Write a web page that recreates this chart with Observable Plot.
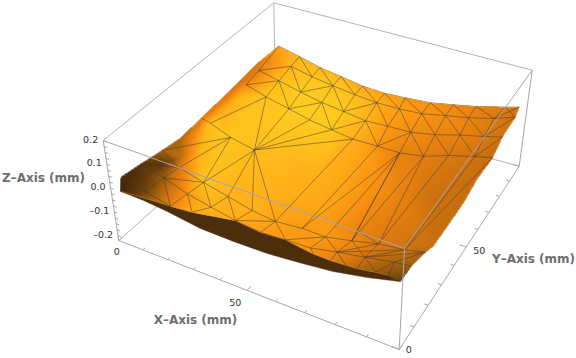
<!DOCTYPE html>
<html><head><meta charset="utf-8">
<script src="https://cdn.jsdelivr.net/npm/d3@7"></script>
<script src="https://cdn.jsdelivr.net/npm/@observablehq/plot@0.6"></script>
<style>html,body{margin:0;background:#fff}</style></head><body><div id="c"></div>
<script>
// Surface vertices, in mm (X, Y, Z), with the shading read at each vertex.
const vertexX=[3.0,11.3,20.6,29.2,38.7,47.4,55.4,65.4,73.7,81.6,91.5,97.3,
10.4,18.8,27.3,36.1,45.2,54.3,63.4,71.9,80.1,89.0,96.7,
2.1,9.1,18.0,27.0,35.7,45.0,53.7,63.2,71.9,80.6,89.1,96.2,
2.5,10.0,18.4,27.3,36.1,45.1,54.9,64.1,72.7,81.0,89.8,96.8,
4.4,12.2,19.7,0.3,0.5,8.5,17.2,8.2,9.1,17.6,19.7,25.2,26.1,26.3,37.3,35.9,44.8,46.6,54.6,54.1,62.6,71.1,79.4,88.7,69.3,63.7,71.6,80.3,97.2,90.3,96.8,99.0,2.8,3.7,
65.8,72.1,77.4,81.5,87.6,92.5,0.5,-0.3,0.1,0.7,96.6,97.0,97.4,97.7,
57.8,73.2,84.3,43.5,62.8,40.8,56.0,2.5,2.5,3.0,3.2,7.6,5.5,5.3,4.3,7.7,2.2,4.4];
const vertexY=[98.2,99.6,99.0,99.8,98.9,99.5,100.1,99.7,100.8,102.0,103.4,99.9,
94.8,96.1,97.0,98.0,98.1,98.1,97.3,98.7,99.6,100.5,98.9,
84.9,87.8,88.8,88.9,89.9,89.4,89.8,88.6,89.7,90.8,91.0,88.2,
75.4,77.1,79.4,79.1,79.7,79.2,79.2,77.7,78.3,80.1,81.0,77.9,
49.0,49.7,53.1,26.5,14.9,24.4,25.6,16.3,5.7,16.0,4.4,8.0,16.8,26.2,13.9,25.7,25.5,13.7,15.3,26.5,26.3,27.5,29.1,27.3,34.8,14.6,16.8,17.7,22.3,16.0,13.2,0.9,2.4,0.3,
12.7,11.6,11.0,10.3,9.6,7.5,36.5,50.3,73.0,87.4,64.3,52.5,39.1,26.9,
52.6,54.7,56.6,58.0,65.1,42.0,35.0,59.3,70.0,47.8,42.7,37.8,29.3,25.7,20.2,50.1,8.5,14.6];
const vertexZ=[.03,0,-.02,-.04,-.05,-.06,-.06,-.05,-.04,-.03,-.01,.03,
-.02,-.05,-.07,-.09,-.1,-.1,-.09,-.08,-.07,-.05,-.01,
-.01,-.05,-.08,-.1,-.12,-.13,-.13,-.12,-.11,-.09,-.07,-.03,
-.02,-.06,-.1,-.12,-.14,-.15,-.15,-.14,-.13,-.11,-.09,-.05,
-.03,-.07,-.12,-.02,0,-.05,-.09,-.04,-.02,-.07,-.03,-.06,-.1,-.12,-.09,-.14,-.15,-.1,-.11,-.15,-.15,-.14,-.13,-.1,-.16,-.1,-.1,-.09,-.03,-.05,-.01,.05,.04,0,
-.1,-.09,-.08,-.07,-.05,-.02,-.03,-.03,-.01,.01,-.05,-.06,-.05,-.04,
-.16,-.14,-.09,-.16,-.14,-.15,-.15,-.05,-.05,-.05,-.04,-.08,-.05,-.04,-.02,-.07,.01,-.02];
const vertexShade=[.75,.85,.85,.85,.8,.75,.72,.68,.64,.6,.55,.5,
.85,.95,.95,.9,.82,.75,.7,.66,.62,.55,.5,
.6,.9,1,1,.97,.85,.72,.66,.62,.6,.55,.5,
.65,.95,1,1,.97,.82,.7,.6,.58,.54,.5,.45,
.9,.95,.9,.4,.12,.55,.92,.35,.22,.7,.6,.8,.85,.85,.8,.82,.76,.72,.72,.72,.72,.65,.55,.5,.62,.7,.62,.5,.42,.4,.35,.2,.05,.02,
.65,.6,.5,.42,.35,.28,.4,.55,.5,.55,.47,.47,.47,.47,
.74,.62,.5,.84,.68,.82,.76,.82,.85,.85,.7,.85,.45,.3,.14,.95,.06,.2];
// Lower rim of the sheet along the front edge.
const rimX=[3.8,11.4,19.7,30.6,41.0,51.9,62.9,73.7,84.9,95.1];
const rimY=[0.2,1.8,2.7,4.5,7.0,9.0,10.1,10.5,10.2,9.5];
const rimZ=[0,-.02,-.04,-.08,-.11,-.13,-.13,-.12,-.09,-.05];
// Triangulation edges, as pairs of vertex indices.
const meshPairs=[0,23,1,12,12,23,12,24,12,25,12,13,1,13,13,2,13,14,2,14,14,3,14,15,3,15,15,4,15,16,4,16,16,5,16,17,5,17,17,6,17,18,6,18,18,7,18,19,7,19,19,8,19,20,8,20,20,9,20,21,9,21,21,10,21,22,10,22,21,11,
13,25,25,14,14,26,25,26,14,27,26,27,27,15,27,16,27,28,16,28,16,29,17,29,28,29,29,30,17,30,30,18,30,31,18,31,31,19,31,32,19,32,32,20,32,33,20,33,33,21,33,34,22,33,
24,25,23,24,35,24,35,36,24,36,36,37,24,37,25,37,37,26,26,38,37,38,38,39,26,39,27,39,39,28,28,40,39,40,40,41,28,41,29,41,41,30,41,42,30,42,42,43,30,43,31,43,43,44,31,44,32,44,44,45,32,45,33,45,45,46,34,45,
49,36,49,37,49,38,49,39,49,40,49,48,47,48,47,36,47,88,35,23,50,48,52,48,51,52,50,52,52,53,54,52,54,53,53,48,53,60,53,49,54,51,54,55,51,55,79,55,55,57,54,56,53,56,56,57,54,57,56,58,56,59,53,59,58,59,59,60,59,61,60,49,49,62,49,63,60,62,60,61,62,61,62,63,61,63,63,66,63,65,64,65,63,64,64,61,
40,63,41,66,42,66,42,67,42,71,71,68,42,68,43,68,43,69,44,69,45,70,46,70,
66,67,67,68,68,69,69,70,65,67,65,72,72,67,72,73,73,74,67,73,68,73,68,74,69,74,73,69,73,70,74,70,74,75,76,75,76,74,76,77,76,86,70,75,73,82,73,83,72,81,74,84,74,85,76,85,77,78,86,78,71,69];
const outlineIndex=[0,1,2,3,4,5,6,7,8,9,10,11,22,34,46,91,92,93,94,75,77,78,86,85,84,83,82,81,65,64,61,58,57,80,79,51,50,87,88,89,90];
const frontIndex=[78,86,85,84,83,82,81,65,64,61,58,57,80];
const xTicks=[0,10,20,30,40,50,60,70,80,90,100], yTicks=xTicks;
const zTickLabels=[-0.2,-0.1,0,0.1,0.2];
const zMinor=d3.range(-.2,.2001,.025);
const zMin=-.22,zMax=.2;
const shadeStops=[0,.2,.35,.5,.6,.7,.8,.9,1];
const shadeColors=["#3f2408","#6b3f0b","#9a5c0e","#d0730f","#e8820f","#fa9512","#ffab18","#ffbe1c","#ffcb1f"];

// Camera: perspective of the box, fixed by where its eight corners fall on the page.
function quad(p){const [[x0,y0],[x1,y1],[x2,y2],[x3,y3]]=p;const dx1=x1-x2,dx2=x3-x2,sx=x0-x1+x2-x3,dy1=y1-y2,dy2=y3-y2,sy=y0-y1+y2-y3;const d=dx1*dy2-dx2*dy1;const g=(sx*dy2-dx2*sy)/d,h=(dx1*sy-sx*dy1)/d;const a=x1-x0+g*x1,b=x3-x0+h*x3,c=x0,dd=y1-y0+g*y1,e=y3-y0+h*y3,f=y0;return (u,v)=>{const w=g*u+h*v+1;return[(a*u+b*v+c)/w,(dd*u+e*v+f)/w]}}
const floorH=quad([[118.3,240],[398.7,349],[518.7,165.7],[275,100]]),topH=quad([[102.7,140],[404,248],[531.7,69.7],[273.3,2.3]]);
function P(X,Y,Z){const t=(Z-zMin)/(zMax-zMin),a=floorH(X/100,Y/100),b=topH(X/100,Y/100);return[a[0]+(b[0]-a[0])*t,a[1]+(b[1]-a[1])*t]}

const v=vertexX.map((x,i)=>{const[p,q]=P(x,vertexY[i],vertexZ[i]);return{px:p,py:q,s:vertexShade[i]}});
const outline=outlineIndex.map(i=>[v[i].px,v[i].py]);
const band=[...frontIndex.map(i=>({px:v[i].px,py:v[i].py})),...rimX.map((x,i)=>{const[p,q]=P(x,rimY[i],rimZ[i]);return{px:p,py:q}})];
const mesh=[];for(let i=0;i<meshPairs.length;i+=2)mesh.push({a:v[meshPairs[i]],b:v[meshPairs[i+1]]});
const rimSeg=outlineIndex.map((i,k)=>{const j=outlineIndex[(k+1)%outlineIndex.length];return{a:v[i],b:v[j],s:(v[i].s+v[j].s)/2}});
const seg=(a,b)=>{const[p,q]=P(...a),[r,s]=P(...b);return{x1:p,y1:q,x2:r,y2:s}};
const back=[seg([0,0,zMin],[0,100,zMin]),seg([0,100,zMin],[100,100,zMin]),seg([0,100,zMin],[0,100,zMax]),seg([0,0,zMax],[0,100,zMax]),seg([0,100,zMax],[100,100,zMax])];
const front=[seg([0,0,zMin],[100,0,zMin]),seg([100,0,zMin],[100,100,zMin]),seg([0,0,zMin],[0,0,zMax]),seg([100,0,zMin],[100,0,zMax]),seg([100,100,zMin],[100,100,zMax]),seg([0,0,zMax],[100,0,zMax]),seg([100,0,zMax],[100,100,zMax])];
const len=t=>t%50===0?2.2:1.2;
const ticks=[...xTicks.map(t=>seg([t,0,zMin],[t,len(t),zMin])),...yTicks.map(t=>seg([100,t,zMin],[100-len(t),t,zMin])),...zMinor.map(t=>seg([0,0,t],[1.2,0,t]))];
const clipInterp=(index,w,h,X,Y,V)=>{const W=Plot.interpolatorBarycentric()(index,w,h,X,Y,V);for(let j=0,i=0;j<h;j++)for(let k=0;k<w;k++,i++){if(!d3.polygonContains(outline,[k+.5,j+.5]))W[i]=NaN}return W};
const lab=(d,o)=>Plot.text(d,{x:"x",y:"y",text:"t",fontFamily:"DejaVu Sans",...o});
const zl=zTickLabels.map(t=>{const[p,q]=P(0,0,t);return{x:p,y:q,t:t.toFixed(1).replace("-","\u2013")}});
const at=(X,Y,dx,dy,t)=>{const[p,q]=P(X,Y,zMin);return{x:p+dx,y:q+dy,t}};
const plot=Plot.plot({width:576,height:358,margin:0,
x:{domain:[0,576],range:[0,576],axis:null},y:{domain:[0,358],range:[0,358],axis:null},
color:{type:"linear",domain:shadeStops,range:shadeColors,clamp:true},
marks:[
Plot.link(back,{x1:"x1",y1:"y1",x2:"x2",y2:"y2",stroke:"#b4b4b4",strokeWidth:1}),
Plot.line(band,{x:"px",y:"py",fill:"#4d2e0c",stroke:"#4d2e0c",strokeWidth:.5,curve:"linear-closed"}),
Plot.raster(v,{x:"px",y:"py",fill:"s",x1:0,x2:576,y1:0,y2:358,pixelSize:1,interpolate:clipInterp}),
Plot.link(rimSeg,{x1:d=>d.a.px,y1:d=>d.a.py,x2:d=>d.b.px,y2:d=>d.b.py,stroke:"s",strokeWidth:1,strokeOpacity:.6}),
Plot.line(outlineIndex.slice(0,12),{x:i=>v[i].px,y:i=>v[i].py,stroke:"#8c8678",strokeWidth:.8,strokeOpacity:.7}),
Plot.link(mesh,{x1:d=>d.a.px,y1:d=>d.a.py,x2:d=>d.b.px,y2:d=>d.b.py,stroke:"#3a3a3a",strokeOpacity:.62,strokeWidth:.8}),
Plot.link(front,{x1:"x1",y1:"y1",x2:"x2",y2:"y2",stroke:"#a6a6a6",strokeWidth:1}),
Plot.link(ticks,{x1:"x1",y1:"y1",x2:"x2",y2:"y2",stroke:"#a6a6a6",strokeWidth:1}),
lab(zl,{textAnchor:"end",dx:-5,dy:-1,fontSize:9.5,fill:"#333"}),
lab([{x:43,y:178,t:"Z\u2013Axis (mm)"},{x:195,y:320,t:"X\u2013Axis (mm)"},{x:533,y:259,t:"Y\u2013Axis (mm)"}],{fontSize:12,fontWeight:"bold",fill:"#6e6e6e"}),
lab([at(0,0,-2,11,"0"),at(50,0,-12,13,"50"),at(100,0,9.5,0,"0"),at(100,50,13,4,"50")],{fontSize:9.5,fill:"#333"})
]});
document.getElementById("c").append(plot);
</script></body></html>
